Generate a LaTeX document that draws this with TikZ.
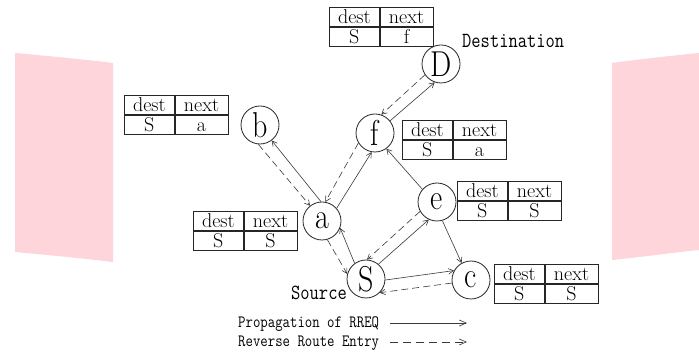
\documentclass[tikz,border=0pt]{standalone}
\usepackage{fontspec}
\usepackage{graphicx}
\usetikzlibrary{arrows.meta,calc}
\definecolor{bandpink}{HTML}{FDD5DA}
\definecolor{linegray}{HTML}{3A3A3A}
\newcommand\vtxfont{\fontsize{30}{30}\selectfont}
\newcommand\vtxlabel[1]{\scalebox{1}[1.2]{\vtxfont #1}}
\newcommand\monotxt[2]{\scalebox{1}[1.2]{\fontsize{#1}{#1}\ttfamily #2}}
\newcommand\rtab[5]{%
  \node[cellL] (#1-h1) at (#2,#3) {dest};
  \node[cellR] (#1-h2) at (#1-h1.north east) {next};
  \node[cellL] (#1-v1) at (#1-h1.south west) {#4};
  \node[cellR] (#1-v2) at (#1-h1.south east) {#5};
}
\begin{document}
\begin{tikzpicture}[x=1pt,y=-1pt,
  vtx/.style={circle, draw=black!85, line width=0.8pt, minimum size=38pt, inner sep=0pt},
  cellL/.style={draw=black!85, line width=0.7pt, minimum width=50pt, minimum height=19pt,
    inner sep=0pt, text height=13.5pt, text depth=0pt, anchor=north west,
    font=\fontsize{20}{20}\selectfont},
  cellR/.style={cellL, minimum width=53pt},
  req/.style={draw=linegray, line width=0.6pt, -{Straight Barb[length=5pt,width=5.5pt]}},
  rev/.style={req, dash pattern=on 7pt off 4pt},
  lbl/.style={inner sep=0pt}
]
\useasboundingbox (0,0) rectangle (699,352);
\fill[white] (0,0) rectangle (699,352);
% pink bands
\fill[bandpink] (15,53) .. controls (48,56) and (80,59) .. (113,63) -- (113,262)
  .. controls (80,258) and (48,255) .. (15,252) -- cycle;
\fill[bandpink] (612,63) .. controls (641,59) and (670,56) .. (699,53) -- (699,250)
  .. controls (670,253) and (641,257) .. (612,260) -- cycle;

% vertices
\node[vtx] (D) at (441,64) {\vtxlabel{D}};
\node[vtx] (b) at (260,125) {\vtxlabel{b}};
\node[vtx] (f) at (375,133) {\vtxlabel{f}};
\node[vtx] (a) at (322,221) {\vtxlabel{a}};
\node[vtx] (e) at (437,202) {\vtxlabel{e}};
\node[vtx] (S) at (366,279) {\vtxlabel{S}};
\node[vtx] (c) at (471,280) {\vtxlabel{c}};

% labels
\node[lbl, anchor=base west] (dlab) at (462,48) {\monotxt{18}{Destination}};
\node[lbl, anchor=base east] (slab) at (347,300) {\monotxt{18}{Source}};

% tables
\rtab{tD}{329}{7}{S}{f}
\rtab{tb}{124}{95}{S}{a}
\rtab{ta}{193}{211}{S}{S}
\rtab{tf}{402}{120}{S}{a}
\rtab{te}{457}{181}{S}{S}
\rtab{tc}{494}{264}{S}{S}

% connectors
\draw[req] (S.126) -- (a.-21);
\draw[rev] (a.-74) -- (S.165);
\draw[req] (a.93) -- (b.-53);
\draw[rev] (b.-95) -- (a.128);
\draw[req] (a.41) -- (f.-100);
\draw[rev] (f.-149) -- (a.80);
\draw[req] (f.39) -- (D.-109);
\draw[rev] (D.-146) -- (f.71);
\draw[req] (e.139) -- (f.-54);
\draw[req] (S.50) -- (e.-115);
\draw[rev] (e.-151) -- (S.87);
\draw[req] (e.-74) -- (c.119);
\draw[req] (S.-3) -- (c.151);
\draw[rev] (c.-171) -- (S.-45);

% legend
\node[lbl, anchor=base west] (leg1) at (238,328) {\monotxt{14.4}{Propagation of RREQ}};
\node[lbl, anchor=base west] (leg2) at (238,347) {\monotxt{14.4}{Reverse Route Entry}};
\coordinate (l1s) at (390,323);
\coordinate (l1e) at (467,323);
\coordinate (l2s) at (390,342);
\coordinate (l2e) at (467,342);
\draw[req, -{Straight Barb[length=7pt,width=6pt]}] (l1s) -- (l1e);
\draw[rev, dash pattern=on 8pt off 5pt, -{Straight Barb[length=7pt,width=6pt]}] (l2s) -- (l2e);
\end{tikzpicture}
\end{document}
